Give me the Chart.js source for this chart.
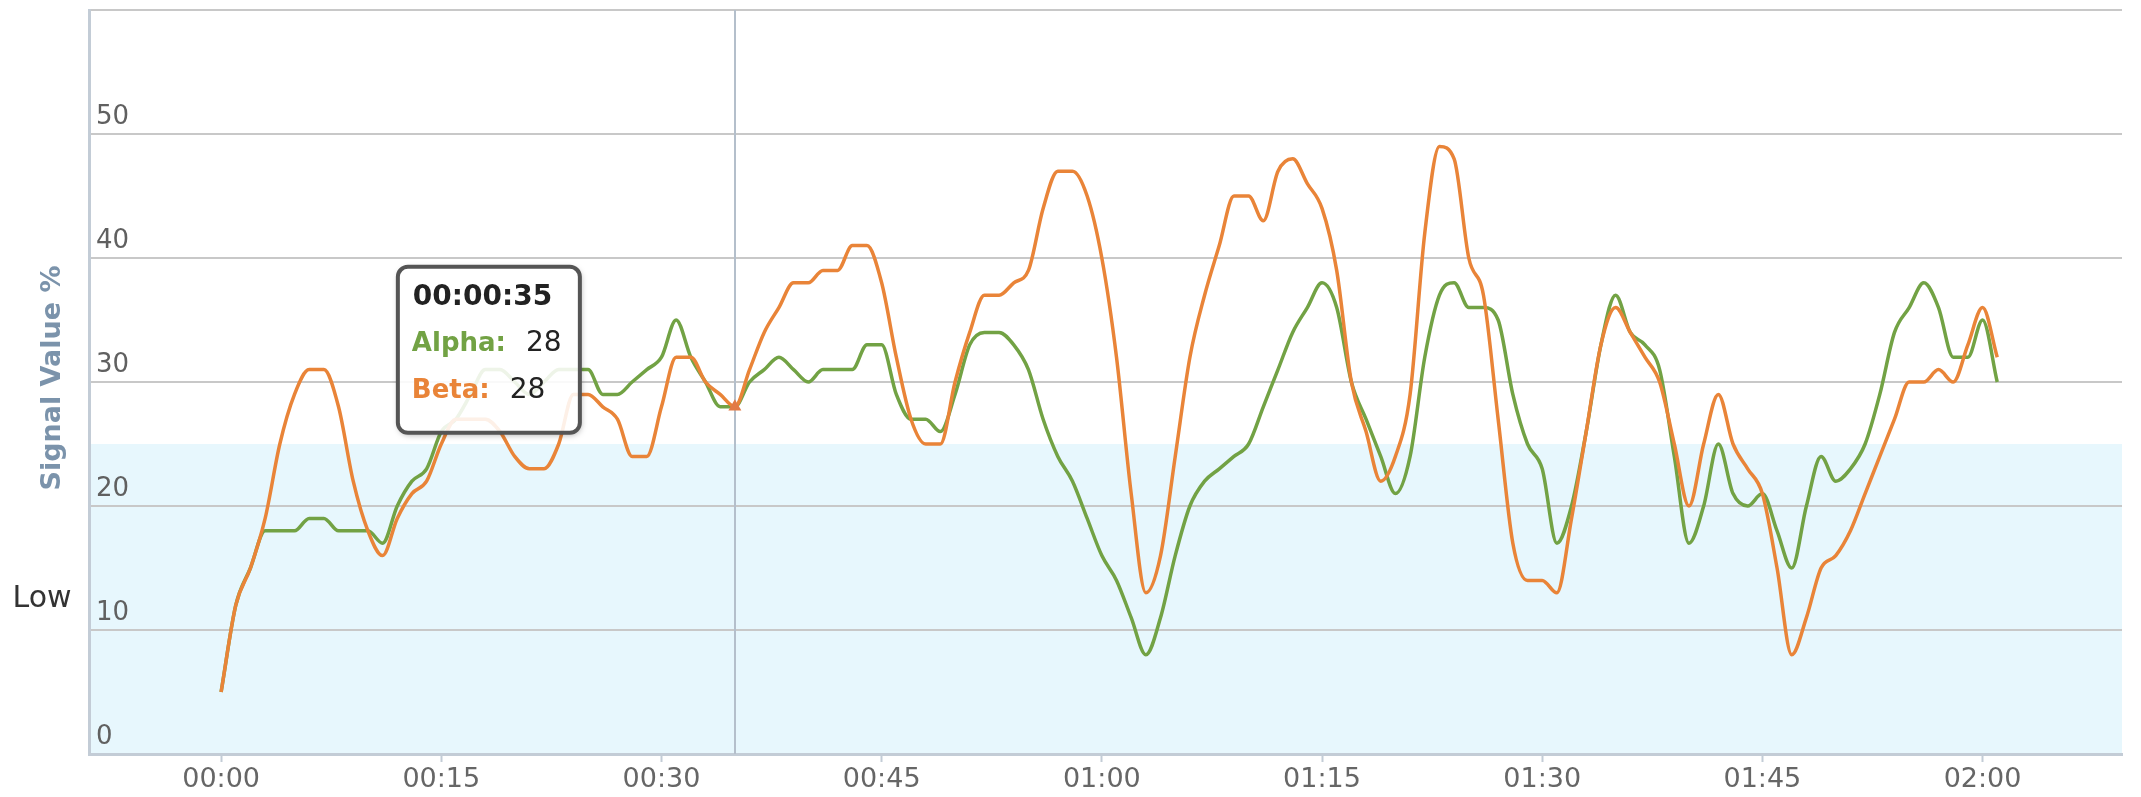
<!DOCTYPE html>
<html>
<head>
<meta charset="utf-8">
<script src="https://cdn.jsdelivr.net/npm/chart.js@4.4.0/dist/chart.umd.min.js"></script>
<style>
  html, body { margin: 0; padding: 0; background: #fff; }
  #wrap { width: 2141px; height: 797px; position: relative; }
</style>
</head>
<body>
<div id="wrap"><canvas id="signalChart"></canvas></div>
<script>
// one sample per second
const alpha = [5, 12, 15, 18, 18, 18, 19, 19, 18, 18,
    18, 17, 20, 22, 23, 26, 27, 29, 31, 31,
    30, 29, 30, 31, 31, 31, 29, 29, 30, 31,
    32, 35, 32, 30, 28, 28, 30, 31, 32, 31,
    30, 31, 31, 31, 33, 33, 29, 27, 27, 26,
    29, 33, 34, 34, 33, 31, 27, 24, 22, 19,
    16, 14, 11, 8, 11, 16, 20, 22, 23, 24,
    25, 28, 31, 34, 36, 38, 36, 30, 27, 24,
    21, 24, 32, 37, 38, 36, 36, 35, 29, 25,
    23, 17, 20, 26, 33, 37, 34, 33, 31, 24,
    17, 20, 25, 21, 20, 21, 18, 15, 20, 24,
    22, 23, 25, 29, 34, 36, 38, 36, 32, 32,
    35, 30];
const beta = [5, 12, 15, 19, 25, 29, 31, 31, 28, 22,
    18, 16, 19, 21, 22, 25, 27, 27, 27, 26,
    24, 23, 23, 25, 29, 29, 28, 27, 24, 24,
    28, 32, 32, 30, 29, 28, 31, 34, 36, 38,
    38, 39, 39, 41, 41, 38, 32, 27, 25, 25,
    30, 34, 37, 37, 38, 39, 44, 47, 47, 45,
    40, 32, 21, 13, 16, 24, 32, 37, 41, 45,
    45, 43, 47, 48, 46, 44, 39, 30, 26, 22,
    24, 29, 42, 49, 48, 40, 37, 27, 17, 14,
    14, 13, 19, 26, 33, 36, 34, 32, 30, 25,
    20, 25, 29, 25, 23, 21, 15, 8, 11, 15,
    16, 18, 21, 24, 27, 30, 30, 31, 30, 33,
    36, 32];
const seconds = alpha.map((_, i) => i);
const tickSeconds = [0, 15, 30, 45, 60, 75, 90, 105, 120];
const tickLabels = ['00:00', '00:15', '00:30', '00:45', '01:00', '01:15', '01:30', '01:45', '02:00'];
const lowBand = [0, 25];
const hoverIndex = 35;
const hoverLabel = '00:00:35';

const GREEN = '#72a244';
const ORANGE = '#e98438';

Chart.defaults.font.family = '"DejaVu Sans", sans-serif';

// light blue "Low" zone, axis title and the Low label
const bandPlugin = {
    id: 'lowBand',
    beforeDraw(chart) {
        const { ctx, chartArea: a, scales: { y } } = chart;
        const top = y.getPixelForValue(lowBand[1]);
        const bottom = y.getPixelForValue(lowBand[0]);
        ctx.save();
        ctx.fillStyle = '#e7f7fd';
        ctx.fillRect(a.left, top, a.right - a.left, bottom - top);

        ctx.fillStyle = '#333';
        ctx.font = '30px "DejaVu Sans"';
        ctx.textAlign = 'center';
        ctx.textBaseline = 'middle';
        ctx.fillText('Low', 42, y.getPixelForValue(12.5));

        ctx.translate(53, (a.top + a.bottom) / 2 - 4);
        ctx.rotate(-Math.PI / 2);
        ctx.font = 'bold 27px "DejaVu Sans"';
        ctx.fillStyle = '#7b93ab';
        ctx.fillText('Signal Value %', 0, 0);
        ctx.restore();
    }
};

// vertical hover line
const crosshairPlugin = {
    id: 'crosshair',
    beforeDatasetsDraw(chart) {
        const { ctx, chartArea: a, scales: { x } } = chart;
        const px = Math.round(x.getPixelForValue(seconds[hoverIndex]));
        ctx.save();
        ctx.strokeStyle = '#b4bfcb';
        ctx.lineWidth = 2;
        ctx.beginPath();
        ctx.moveTo(px, a.top);
        ctx.lineTo(px, a.bottom);
        ctx.stroke();
        ctx.restore();
    }
};

// highcharts-like tooltip box
const tipPlugin = {
    id: 'hoverTip',
    afterDraw(chart) {
        const { ctx, scales: { x, y } } = chart;
        const px = x.getPixelForValue(seconds[hoverIndex]);
        const py = y.getPixelForValue(beta[hoverIndex]);
        const bx = px - 337, by = py - 140, bw = 182, bh = 166;

        // shadow only outside the box
        ctx.save();
        ctx.beginPath();
        ctx.rect(0, 0, chart.width, chart.height);
        ctx.roundRect(bx, by, bw, bh, 10);
        ctx.clip('evenodd');
        ctx.shadowColor = 'rgba(0,0,0,0.35)';
        ctx.shadowBlur = 6;
        ctx.shadowOffsetX = 1;
        ctx.shadowOffsetY = 2;
        ctx.beginPath();
        ctx.roundRect(bx, by, bw, bh, 10);
        ctx.fillStyle = '#fff';
        ctx.fill();
        ctx.restore();

        ctx.save();
        ctx.beginPath();
        ctx.roundRect(bx, by, bw, bh, 10);
        ctx.fillStyle = 'rgba(255,255,255,0.88)';
        ctx.fill();
        ctx.lineWidth = 4;
        ctx.strokeStyle = '#555';
        ctx.stroke();

        ctx.textAlign = 'left';
        ctx.textBaseline = 'alphabetic';
        ctx.font = 'bold 28px "DejaVu Sans"';
        ctx.fillStyle = '#222';
        ctx.fillText(hoverLabel, bx + 15, by + 38);

        const rows = [
            { name: 'Alpha:', color: GREEN, value: alpha[hoverIndex], base: by + 84 },
            { name: 'Beta:', color: ORANGE, value: beta[hoverIndex], base: by + 131 }
        ];
        rows.forEach(r => {
            ctx.font = 'bold 26px "DejaVu Sans"';
            ctx.fillStyle = r.color;
            ctx.fillText(r.name, bx + 14, r.base);
            const w = ctx.measureText(r.name).width;
            ctx.font = '28px "DejaVu Sans"';
            ctx.fillStyle = '#222';
            ctx.fillText(String(r.value), bx + 14 + w + 20, r.base);
        });
        ctx.restore();
    }
};

const ctx = document.getElementById('signalChart').getContext('2d');
new Chart(ctx, {
    type: 'line',
    data: {
        datasets: [{
            label: 'Alpha',
            data: seconds.map((s, i) => ({ x: s, y: alpha[i] })),
            borderColor: GREEN,
            borderWidth: 3.5,
            pointRadius: 0,
            cubicInterpolationMode: 'monotone',
            order: 1
        }, {
            label: 'Beta',
            data: seconds.map((s, i) => ({ x: s, y: beta[i] })),
            borderColor: ORANGE,
            borderWidth: 3.5,
            pointStyle: 'triangle',
            pointRadius: c => c.dataIndex === hoverIndex ? 7.5 : 0,
            pointBackgroundColor: '#e27a45',
            pointBorderWidth: 0,
            cubicInterpolationMode: 'monotone',
            order: 0
        }]
    },
    options: {
        responsive: true,
        maintainAspectRatio: false,
        animation: false,
        events: [],
        layout: { padding: { top: 10, right: 19, left: 0, bottom: 0 } },
        plugins: {
            legend: { display: false },
            tooltip: { enabled: false }
        },
        scales: {
            x: {
                type: 'linear',
                min: -9,
                max: 129.5,
                afterBuildTicks: s => { s.ticks = tickSeconds.map(v => ({ value: v })); },
                afterFit: s => { s.height = 43; s.paddingLeft = 0; s.paddingRight = 0; },
                ticks: {
                    autoSkip: false,
                    maxRotation: 0,
                    padding: 2,
                    color: '#666',
                    font: { size: 27 },
                    callback: v => tickLabels[tickSeconds.indexOf(v)]
                },
                grid: {
                    drawOnChartArea: false,
                    drawTicks: true,
                    tickLength: 8,
                    tickColor: '#c3ccd6',
                    tickWidth: 2
                },
                border: { color: '#c3ccd6', width: 3 }
            },
            y: {
                min: 0,
                max: 60,
                afterFit: s => { s.width = 89; s.paddingTop = 0; s.paddingBottom = 0; },
                ticks: {
                    stepSize: 10,
                    mirror: true,
                    padding: 7,
                    labelOffset: -17,
                    color: '#606060',
                    font: { size: 26 },
                    callback: v => v === 60 ? '' : v
                },
                grid: { color: '#c8c8c8', lineWidth: 2, drawTicks: false },
                border: { color: '#c3ccd6', width: 3 }
            }
        }
    },
    plugins: [bandPlugin, crosshairPlugin, tipPlugin]
});
</script>
</body>
</html>
